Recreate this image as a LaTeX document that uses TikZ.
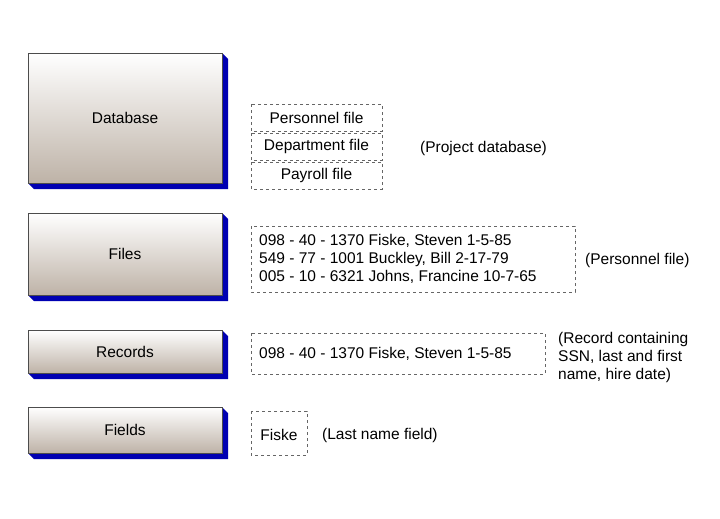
\documentclass[tikz,border=0pt]{standalone}
\usepackage{fontspec}
\setmainfont{Liberation Sans}
\begin{document}
\begin{tikzpicture}[x=1pt,y=-1pt,
  lvl/.style={draw=black!70,line width=0.6pt,top color=white,bottom color=brown!30!gray!60},
  shad/.style={fill=blue!70!black},
  dbox/.style={draw=black!60,dashed,line width=0.8pt},
  txt/.style={font=\fontsize{15.5}{18}\selectfont,inner sep=0pt}]
\useasboundingbox (0,0) rectangle (720,519);
\foreach \n/\a/\b/\t in {db/53/183/Database,fi/213/295/Files,re/330/373/Records,fd/407/453/Fields}{
  \fill[shad] (28,\b) -- (34,\b+6) -- (228,\b+6) -- (228,\a+6) -- (222,\a) -- cycle;
  \path[lvl] (28,\a) rectangle (222,\b);
  \node[txt] (\n) at (125,{(\a+\b)/2}) {\t};
}
\draw[dbox] (251,104) rectangle (382,131); \node[txt] (p1) at (316.5,117.5) {Personnel file};
\draw[dbox] (251,133) rectangle (382,160); \node[txt] (p2) at (316.5,146.5) {Department file};
\draw[dbox] (251,162) rectangle (382,189); \node[txt] (p3) at (316.5,175.5) {Payroll file};
\node[txt,anchor=west] (l1) at (420,148) {(Project database)};
\draw[dbox] (251,226) rectangle (575,292);
\node[txt,anchor=west,align=left] (f1) at (259,259) {098 - 40 - 1370 Fiske, Steven 1-5-85\\549 - 77 - 1001 Buckley, Bill 2-17-79\\005 - 10 - 6321 Johns, Francine 10-7-65};
\node[txt,anchor=west] (l2) at (585,260) {(Personnel file)};
\draw[dbox] (251,333) rectangle (545,374);
\node[txt,anchor=west] (r1) at (259,354) {098 - 40 - 1370 Fiske, Steven 1-5-85};
\node[txt,anchor=west,align=left] (l3) at (558,357) {(Record containing\\SSN, last and first\\name, hire date)};
\draw[dbox] (251,411) rectangle (307,455);
\node[txt] (k1) at (279,435) {Fiske};
\node[txt,anchor=west] (l4) at (322,435) {(Last name field)};
\end{tikzpicture}
\end{document}
